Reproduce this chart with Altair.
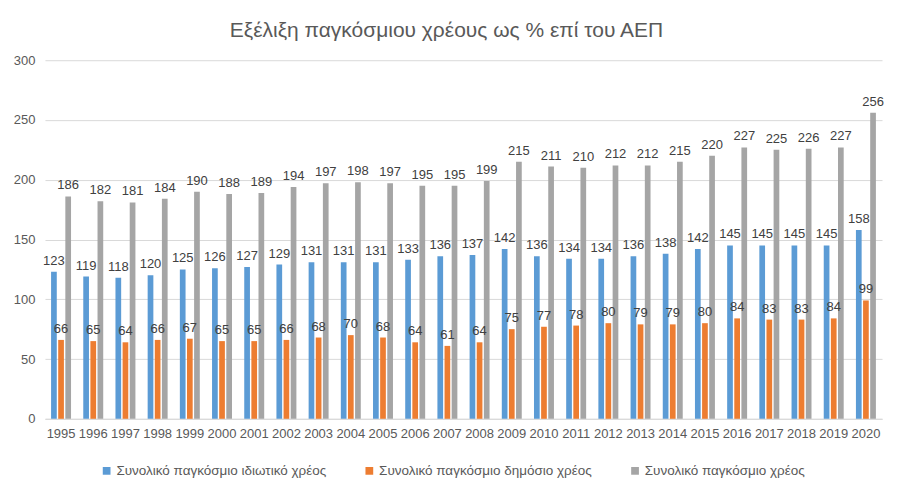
import altair as alt
import pandas as pd

years = ["1995", "1996", "1997", "1998", "1999", "2000", "2001", "2002", "2003",
         "2004", "2005", "2006", "2007", "2008", "2009", "2010", "2011", "2012",
         "2013", "2014", "2015", "2016", "2017", "2018", "2019", "2020"]
private = [123, 119, 118, 120, 125, 126, 127, 129, 131, 131, 131, 133, 136, 137,
           142, 136, 134, 134, 136, 138, 142, 145, 145, 145, 145, 158]
public = [66, 65, 64, 66, 67, 65, 65, 66, 68, 70, 68, 64, 61, 64,
          75, 77, 78, 80, 79, 79, 80, 84, 83, 83, 84, 99]
total = [186, 182, 181, 184, 190, 188, 189, 194, 197, 198, 197, 195, 195, 199,
         215, 211, 210, 212, 212, 215, 220, 227, 225, 226, 227, 256]
series_names = ["Συνολικό παγκόσμιο ιδιωτικό χρέος",
                "Συνολικό παγκόσμιο δημόσιο χρέος",
                "Συνολικό παγκόσμιο χρέος"]
colors = ["#5B9BD5", "#ED7D31", "#A5A5A5"]
y_ticks = [0, 50, 100, 150, 200, 250, 300]
title_text = "Εξέλιξη παγκόσμιου χρέους ως % επί του ΑΕΠ"

rows = []
for name, vals in zip(series_names, [private, public, total]):
    for yr, v in zip(years, vals):
        rows.append({"year": yr, "series": name, "value": v})
df = pd.DataFrame(rows)

FONT = "Liberation Sans"
TXT = "#595959"

x_enc = alt.X("year:N", sort=years, title=None,
              scale=alt.Scale(paddingInner=0.38, paddingOuter=0.19),
              axis=alt.Axis(labelAngle=0, ticks=False, domainColor="#D9D9D9",
                            labelColor=TXT, labelFont=FONT, labelFontSize=13,
                            labelPadding=9, grid=False))
xo_enc = alt.XOffset("series:N", sort=series_names,
                     scale=alt.Scale(domain=series_names, paddingInner=0.2, paddingOuter=0))
y_enc = alt.Y("value:Q", title=None,
              scale=alt.Scale(domain=[0, 300], nice=False),
              axis=alt.Axis(values=y_ticks, ticks=False, domain=False,
                            gridColor="#D9D9D9", labelColor=TXT, labelFont=FONT,
                            labelFontSize=13, labelPadding=10))

bars = alt.Chart(df).mark_bar().encode(
    x=x_enc, xOffset=xo_enc, y=y_enc,
    color=alt.Color("series:N", sort=series_names,
                    scale=alt.Scale(domain=series_names, range=colors),
                    legend=alt.Legend(title=None, orient="none", direction="horizontal",
                                      legendX=55, legendY=404,
                                      symbolType="square", symbolSize=60,
                                      symbolStrokeWidth=0, labelFont=FONT,
                                      labelFontSize=13.5, labelColor=TXT,
                                      labelLimit=400, columnPadding=36,
                                      labelOffset=3))
)

labels = alt.Chart(df).mark_text(baseline="bottom", dy=-4, font=FONT,
                                 fontSize=13, color="#404040").encode(
    x=x_enc, xOffset=xo_enc, y=y_enc, text="value:Q"
)

chart = alt.layer(bars, labels).properties(
    width=838, height=359,
    autosize=alt.AutoSizeParams(type="none"),
    padding={"left": 37, "top": 52, "right": 10, "bottom": 60},
    title=alt.TitleParams(title_text, font=FONT, fontSize=21, fontWeight="normal",
                          color=TXT, anchor="middle", offset=13, dx=-17),
).configure_view(stroke=None)

chart.save("out.html", embed_options={"renderer": "svg", "actions": False})
